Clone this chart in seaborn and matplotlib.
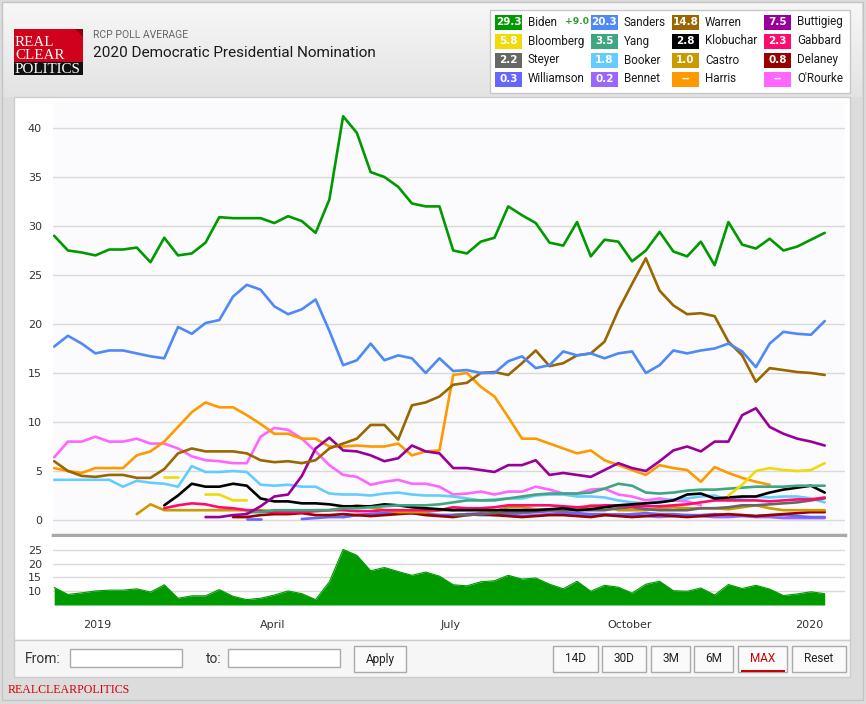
import numpy as np
import pandas as pd
import matplotlib
matplotlib.use('Agg')
import matplotlib.pyplot as plt
from matplotlib.patches import Rectangle, Polygon
from matplotlib.colors import LinearSegmentedColormap
import seaborn as sns

sns.set_style('white')
plt.rcParams['font.family'] = ['DejaVu Sans']

nan = np.nan
dates = pd.date_range('2018-12-10', '2020-01-09', periods=57)

# weekly RCP averages
biden = [29.0, 27.5, 27.3, 27.0, 27.6, 27.6, 27.8, 26.3, 28.8, 27.0,
         27.2, 28.3, 30.9, 30.8, 30.8, 30.8, 30.3, 31.0, 30.5, 29.3,
         32.7, 41.2, 39.5, 35.5, 35.0, 34.0, 32.3, 32.0, 32.0, 27.5,
         27.2, 28.4, 28.8, 32.0, 31.1, 30.3, 28.3, 28.0, 30.4, 26.9,
         28.6, 28.4, 26.4, 27.5, 29.4, 27.4, 26.9, 28.4, 26.0, 30.4,
         28.1, 27.7, 28.7, 27.5, 27.9, 28.6, 29.3]
sanders = [17.7, 18.8, 18.0, 17.0, 17.3, 17.3, 17.0, 16.7, 16.5, 19.7,
           19.0, 20.1, 20.4, 22.8, 24.0, 23.5, 21.8, 21.0, 21.5, 22.5,
           19.3, 15.8, 16.3, 18.0, 16.3, 16.8, 16.5, 15.0, 16.5, 15.2,
           15.3, 15.0, 15.0, 16.2, 16.7, 15.5, 15.8, 17.2, 16.8, 17.0,
           16.5, 17.0, 17.2, 15.0, 15.8, 17.3, 17.0, 17.3, 17.5, 18.0,
           17.2, 15.6, 18.0, 19.2, 19.0, 18.9, 20.3]
warren = [6.0, 5.0, 4.5, 4.4, 4.6, 4.6, 4.3, 4.3, 5.2, 6.8,
          7.3, 7.0, 7.0, 7.0, 6.8, 6.1, 5.9, 6.0, 5.8, 6.1,
          7.3, 7.8, 8.3, 9.7, 9.7, 8.2, 11.7, 12.0, 12.6, 13.8,
          14.0, 15.0, 15.1, 14.8, 16.0, 17.3, 15.7, 16.0, 16.8, 17.0,
          18.2, 21.4, 24.1, 26.7, 23.4, 21.9, 21.0, 21.1, 20.8, 18.2,
          16.8, 14.1, 15.5, 15.3, 15.1, 15.0, 14.8]
buttigieg = [nan] * 11 + [0.3, 0.3, 0.5, 0.6, 1.4, 2.4, 2.6, 4.5, 7.3, 8.4,
                          7.1, 7.0, 6.6, 6.0, 6.3, 7.6, 7.0, 6.8, 5.3, 5.3,
                          5.1, 4.9, 5.6, 5.6, 6.1, 4.6, 4.8, 4.6, 4.4, 5.1,
                          5.8, 5.3, 5.0, 6.0, 7.1, 7.5, 7.0, 8.0, 8.0, 10.7,
                          11.4, 9.5, 8.8, 8.3, 8.0, 7.6]
bloomberg = [nan] * 8 + [4.4, 4.4, nan, 2.6, 2.6, 2.0, 2.0] + [nan] * 34 + \
            [2.5, 3.6, 5.0, 5.3, 5.1, 5.0, 5.1, 5.8]
yang = [nan] * 14 + [0.8, 0.8, 1.0, 1.0, 1.0, 1.0, 1.0, 1.2, 1.2, 1.3,
                     1.4, 1.5, 1.5, 1.5, 1.6, 1.8, 2.0, 2.0, 2.0, 2.2,
                     2.4, 2.6, 2.7, 2.7, 2.7, 2.8, 3.2, 3.7, 3.5, 2.8,
                     2.7, 2.8, 3.0, 3.1, 3.1, 3.2, 3.3, 3.4, 3.4, 3.4,
                     3.5, 3.5, 3.5]
klobuchar = [nan] * 8 + [1.5, 2.5, 3.7, 3.4, 3.4, 3.7, 3.5, 2.2, 1.9, 1.9, 1.7,
                         1.7, 1.6, 1.4, 1.4, 1.4, 1.6, 1.5, 1.3, 1.2, 1.1,
                         1.0, 1.0, 1.0, 1.0, 1.0, 1.0, 1.0, 1.1, 1.2,
                         1.0, 1.1, 1.3, 1.5, 1.6, 1.7, 1.8, 2.0, 2.6, 2.7,
                         2.2, 2.3, 2.4, 2.4, 2.8, 3.1, 3.3, 3.5, 2.8]
gabbard = [nan] * 8 + [1.2, 1.5, 1.7, 1.6, 1.3, 1.2, 1.0, 0.9, 0.8, 0.8,
                       0.8, 0.9, 1.0, 1.0, 0.9, 0.9, 1.0, 1.0, 1.0, 1.0,
                       1.0, 1.3, 1.2, 1.2, 1.3, 1.5, 1.5, 1.5, 1.5, 1.4,
                       1.3, 1.4, 1.5, 1.5, 1.4, 1.4, 1.4, 1.5, 1.6, 1.8,
                       2.0, 2.0, 2.0, 2.0, 1.9, 2.0, 2.1, 2.1, 2.3]
steyer = [nan] * 29 + [0.5, 0.5, 0.6, 0.7, 0.8, 0.8, 0.9, 1.0, 1.0, 1.0,
                       1.0, 1.0, 1.2, 1.3, 1.1, 1.0, 1.0, 1.0, 1.2, 1.2,
                       1.3, 1.5, 1.5, 1.6, 1.7, 1.8, 2.0, 2.2]
booker = [4.1, 4.1, 4.1, 4.1, 4.1, 3.4, 4.0, 3.8, 3.7, 3.4,
          5.5, 4.9, 4.9, 5.0, 4.9, 3.6, 3.5, 3.6, 3.4, 3.4,
          2.7, 2.6, 2.6, 2.5, 2.7, 2.8, 2.6, 2.5, 2.5, 2.4,
          2.2, 2.0, 2.1, 2.2, 2.2, 2.5, 2.6, 2.6, 2.4, 2.4,
          2.3, 2.0, 1.8, 1.7, 1.9, 2.1, 2.2, 2.4, 2.5, 2.0,
          2.3, 2.4, 2.3, 2.4, 2.4, 2.2, 1.8]
castro = [nan] * 6 + [0.6, 1.6, 1.0, 1.0, 1.0, 1.0, 1.0, 1.0, 1.0, 1.0,
                      0.9, 0.9, 0.9, 1.0, 1.0, 1.2, 1.5, 1.3, 1.0, 0.8,
                      0.8, 0.8, 1.0, 1.0, 1.2, 1.0, 0.9, 1.3, 1.3, 1.1,
                      1.0, 1.0, 1.1, 1.5, 1.4, 1.0, 1.0, 1.0, 1.2, 1.3,
                      1.2, 1.2, 1.2, 1.1, 1.3, 1.5, 1.2, 1.0, 1.0, 1.0,
                      1.0]
delaney = [nan] * 13 + [0.3, 0.3, 0.5, 0.6, 0.6, 0.7, 0.5, 0.5, 0.6, 0.5,
                        0.4, 0.5, 0.6, 0.7, 0.5, 0.4, 0.3, 0.5, 0.6, 0.5,
                        0.4, 0.3, 0.4, 0.5, 0.5, 0.4, 0.3, 0.5, 0.4, 0.3,
                        0.4, 0.5, 0.4, 0.3, 0.4, 0.5, 0.6, 0.5, 0.4, 0.5,
                        0.6, 0.7, 0.8, 0.8]
williamson = [nan] * 14 + [0.1, 0.1, nan, nan] + \
             [0.1, 0.2, 0.3, 0.3, 0.5, 0.6, 0.7, 0.8, 0.7, 0.6,
              0.5, 0.5, 0.6, 0.5, 0.5, 0.6, 0.7, 0.8, 0.9, 0.8,
              0.7, 0.6, 0.6, 0.5, 0.6, 0.7, 0.6, 0.6, 0.5, 0.5,
              0.6, 0.5, 0.5, 0.4, 0.5, 0.5, 0.4, 0.3, 0.3]
bennet = [nan] * 21 + [0.3, 0.5, 0.6, 0.7, 0.8, 0.7, 0.6, 0.5, 0.5, 0.6,
                       0.7, 0.6, 0.5, 0.4, 0.5, 0.6, 0.6, 0.5, 0.4, 0.5,
                       0.6, 0.5, 0.4, 0.3, 0.4, 0.5, 0.4, 0.3, 0.3, 0.4,
                       0.3, 0.3, 0.2, 0.2, 0.2, 0.2]
harris = [5.3, 5.0, 4.8, 5.3, 5.3, 5.3, 6.6, 7.0, 8.0, 9.5,
          11.0, 12.0, 11.5, 11.5, 10.7, 9.8, 8.8, 8.8, 8.3,
          8.3, 7.5, 7.5, 7.6, 7.5, 7.5, 7.8, 6.6, 7.0, 7.1,
          14.8, 15.0, 13.6, 12.6, 10.5, 8.3, 8.3, 7.8, 7.3,
          6.8, 7.1, 6.1, 5.6, 5.1, 4.6, 5.6, 5.3, 5.1, 3.9, 5.4, 4.8, 4.3, 3.9, 3.6,
          nan, nan, nan, nan]
orourke = [6.4, 8.0, 8.0, 8.5, 8.0, 8.0, 8.3, 7.8, 7.8, 7.3,
           6.5, 6.1, 6.0, 5.8, 5.8, 8.5, 9.4, 9.2, 8.3,
           7.0, 5.6, 4.6, 4.4, 3.6, 3.9, 4.1, 3.7, 3.7, 3.4,
           2.6, 2.7, 2.9, 2.6, 2.9, 2.9, 3.4, 3.1, 2.7,
           2.7, 3.1, 3.2, 2.6, 2.4, 2.0, 2.2, 2.0, 1.9, 1.5] + [nan] * 9

candidates = ['Biden', 'Sanders', 'Warren', 'Buttigieg',
              'Bloomberg', 'Yang', 'Klobuchar', 'Gabbard',
              'Steyer', 'Booker', 'Castro', 'Delaney',
              'Williamson', 'Bennet', 'Harris', "O'Rourke"]
series = {'Biden': biden, 'Sanders': sanders, 'Warren': warren, 'Buttigieg': buttigieg,
          'Bloomberg': bloomberg, 'Yang': yang, 'Klobuchar': klobuchar, 'Gabbard': gabbard,
          'Steyer': steyer, 'Booker': booker, 'Castro': castro, 'Delaney': delaney,
          'Williamson': williamson, 'Bennet': bennet, 'Harris': harris, "O'Rourke": orourke}
latest = ['29.3', '20.3', '14.8', '7.5', '5.8', '3.5', '2.8', '2.3',
          '2.2', '1.8', '1.0', '0.8', '0.3', '0.2', '--', '--']
colors = {'Biden': '#009900', 'Sanders': '#4F88F7', 'Warren': '#996600', 'Buttigieg': '#990099',
          'Bloomberg': '#F0DA0A', 'Yang': '#3FA681', 'Klobuchar': '#000000', 'Gabbard': '#FF0A6E',
          'Steyer': '#666666', 'Booker': '#66CCFF', 'Castro': '#CC9900', 'Delaney': '#990000',
          'Williamson': '#6666FF', 'Bennet': '#9966FF', 'Harris': '#FF9900', "O'Rourke": '#FF66FF'}
spread_label = '+9.0'

# long-form table, a new segment after every gap
rows = []
for name in candidates:
    seg, prev = 0, False
    for d, v in zip(dates, series[name]):
        if np.isnan(v):
            if prev:
                seg += 1
            prev = False
            continue
        rows.append((name, seg, d, v))
        prev = True
df = pd.DataFrame(rows, columns=['name', 'seg', 'date', 'value'])
spread = np.array(biden) - np.array(sanders)

W, H = 866, 704
fig = plt.figure(figsize=(W / 100, H / 100), dpi=100)
fig.patch.set_facecolor('#dcdcdc')


def frame(l, t, r, b):
    return [l / W, 1 - b / H, (r - l) / W, (b - t) / H]


bg = fig.add_axes([0, 0, 1, 1])
bg.axis('off')
grad = np.linspace(0, 1, 100).reshape(-1, 1)
bg.imshow(grad, extent=(3, 862, 97, 3), aspect='auto',
          cmap=LinearSegmentedColormap.from_list('hdr', ['#f7f7f7', '#e3e3e3']))
bg.add_patch(Rectangle((2, 2), 861, 698, fc='none', ec='#c4c4c4', lw=1))
bg.add_patch(Rectangle((14, 97), 836, 543, fc='white', ec='#cccccc', lw=1))
bg.add_patch(Rectangle((14, 640), 836, 37, fc='#f6f6f6', ec='#cccccc', lw=1))

# logo
bg.add_patch(Rectangle((14, 29), 69, 33, fc='#d0021b', ec='none'))
bg.add_patch(Rectangle((14, 62), 69, 13, fc='#111111', ec='none'))
bg.add_patch(Polygon([(75, 29), (83, 29), (83, 37)], fc='#8a0010', ec='none'))
for txt, y in [('REAL', 46), ('CLEAR', 59), ('POLITICS', 73)]:
    bg.text(15, y, txt, color='white', fontsize=10.8, family='Liberation Serif', va='baseline')
bg.text(93, 35, 'RCP POLL AVERAGE', fontsize=7.5, color='#666666', family='Roboto', va='center')
bg.text(93, 53, '2020 Democratic Presidential Nomination', fontsize=11, color='#1a1a1a',
        family='Roboto', va='center')

# legend panel
bg.add_patch(Rectangle((490, 10), 360, 83, fc='white', ec='#c8c8c8', lw=1))
col_x = [495, 591, 672, 764]
row_y = [22, 41, 60, 79]
for k, name in enumerate(candidates):
    bx, by = col_x[k % 4], row_y[k // 4]
    bg.add_patch(Rectangle((bx, by - 7.5), 27, 15, fc=colors[name], ec='none'))
    bg.text(bx + 13.5, by, latest[k], color='white', fontsize=7.5, fontweight='bold',
            ha='center', va='center')
    bg.text(bx + 33, by, name, color='#1a1a1a', fontsize=8.4, family='Roboto', va='center')
bg.text(565, 22, spread_label, color='#2e9b2e', fontsize=6.6, fontweight='bold', va='center')

# control bar
bg.text(25, 659, 'From:', fontsize=10, color='#333333', family='Roboto', va='center')
bg.text(206, 659, 'to:', fontsize=10, color='#333333', family='Roboto', va='center')
for x0, x1 in [(70, 182), (228, 340)]:
    bg.add_patch(Rectangle((x0, 649), x1 - x0, 18, fc='white', ec='#aaaaaa', lw=1))
buttons = [('Apply', 354, 406), ('14D', 553, 598), ('30D', 602, 646), ('3M', 651, 690),
           ('6M', 694, 733), ('MAX', 738, 787), ('Reset', 792, 846)]
for label, x0, x1 in buttons:
    bg.add_patch(Rectangle((x0, 646), x1 - x0, 26, fc='#fafafa', ec='#aaaaaa', lw=1))
    bg.text((x0 + x1) / 2, 659, label, fontsize=8.5, family='Roboto', ha='center', va='center',
            color='#cc0000' if label == 'MAX' else '#222222')
bg.add_patch(Rectangle((741, 669.5), 44, 2.5, fc='#cc0000', ec='none'))
bg.text(8, 690, 'REALCLEARPOLITICS', fontsize=8.6, color='#d10000',
        family='Liberation Serif', va='center')
bg.set_xlim(0, W)
bg.set_ylim(H, 0)

jan1 = pd.Timestamp('2019-01-01')
xlim = (jan1 - pd.Timedelta(days=22.6), jan1 + pd.Timedelta(days=383.4))

# main chart
ax = fig.add_axes(frame(53, 103, 845, 535))
ax.set_facecolor('#fbfbfd')
sns.lineplot(data=df, x='date', y='value', hue='name', units='seg', estimator=None,
             hue_order=candidates[::-1], palette=colors, linewidth=1.9, legend=False, ax=ax)
ax.set_xlim(*xlim)
ax.set_ylim(-1.53, 42.55)
ax.set_yticks(range(0, 45, 5))
ax.set_xticks([])
ax.grid(axis='y', color='#d9d9d9', lw=1)
ax.set_axisbelow(True)
ax.tick_params(axis='y', length=0, pad=8, labelsize=8, labelcolor='#333333')
ax.set_xlabel('')
ax.set_ylabel('')
for s in ['top', 'left', 'right']:
    ax.spines[s].set_visible(False)
ax.spines['bottom'].set_color('#a9a9a9')
ax.spines['bottom'].set_linewidth(2.5)

# navigator (Biden lead over Sanders)
nav = fig.add_axes(frame(53, 537, 845, 605))
nav.set_facecolor('white')
nav.fill_between(dates, spread, 4.8, color='#009900', lw=0, zorder=2)
sns.lineplot(x=dates, y=spread, color='#009900', linewidth=0.8, ax=nav)
nav.set_xlim(*xlim)
nav.set_ylim(4.8, 30)
nav.set_yticks([10, 15, 20, 25])
nav.grid(axis='y', color='#d9d9d9', lw=1)
nav.set_axisbelow(True)
nav.set_xticks([pd.Timestamp(s) for s in ['2019-01-01', '2019-04-01', '2019-07-01',
                                          '2019-10-01', '2020-01-01']])
nav.set_xticklabels(['2019', 'April', 'July', 'October', '2020'])
nav.tick_params(axis='y', length=0, pad=8, labelsize=8, labelcolor='#333333')
nav.tick_params(axis='x', length=0, pad=11, labelsize=8, labelcolor='#333333')
nav.set_xlabel('')
nav.set_ylabel('')
for s in nav.spines.values():
    s.set_visible(False)

fig.savefig('out.png', dpi=100, facecolor=fig.get_facecolor())
